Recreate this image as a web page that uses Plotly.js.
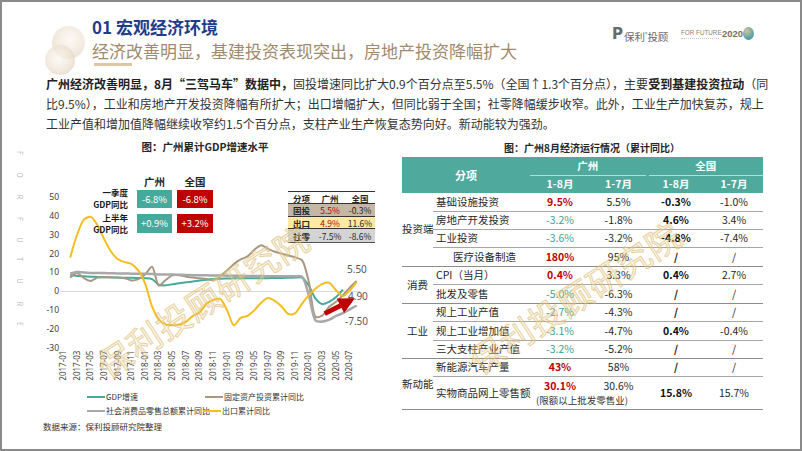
<!DOCTYPE html>
<html><head><meta charset="utf-8">
<script src="https://cdn.plot.ly/plotly-3.0.1.min.js"></script>
<style>
body{margin:0;width:802px;height:451px;overflow:hidden;background:#fff;font-family:"Noto Sans CJK SC","Noto Sans",sans-serif;color:#262626;position:relative;}
.abs{position:absolute;white-space:nowrap;}
#frame{position:absolute;left:0;top:0;width:798px;height:447px;border:2px solid #8a8a8a;z-index:50;pointer-events:none;}
#plot{position:absolute;left:0;top:0;width:802px;height:451px;}
.para{position:absolute;left:46px;width:706px;font-size:12px;line-height:20px;text-align:justify;text-align-last:justify;white-space:nowrap;color:#333;}
.para b{font-weight:700;color:#222;}
.gbox{position:absolute;color:#fff;font-size:9.5px;text-align:center;line-height:18px;height:18px;}
.glab{position:absolute;font-size:8.5px;font-weight:700;text-align:right;width:60px;line-height:12px;height:12px;color:#1a1a1a;}
table{border-collapse:collapse;table-layout:fixed;}
#bigt td{font-size:10.5px;text-align:center;padding:0;white-space:nowrap;line-height:12px;}
#bigt .hd td{background:#4faa9d;color:#fff;font-weight:700;}
#bigt td.it{text-align:left;padding-left:3px;}
#bigt tr.g td{border-top:1.5px solid #8c8c8c;}
#bigt tr.in td{border-top:1px solid #a6a6a6;}
.red{color:#c00000;font-weight:700;}
.tea{color:#3aa292;}
.bk{font-weight:700;color:#111;}
#smt td{font-size:8.5px;text-align:center;padding:0;line-height:10px;white-space:nowrap;}
.wm{position:absolute;font-size:34px;color:rgba(245,224,165,0.35);-webkit-text-stroke:1px rgba(212,176,100,0.55);transform:rotate(-33deg);transform-origin:center;white-space:nowrap;z-index:40;pointer-events:none;letter-spacing:1px;}
.leg{position:absolute;font-size:8px;line-height:10px;display:flex;align-items:center;white-space:nowrap;color:#333;}
.leg i{display:inline-block;width:18px;height:2px;margin-right:1px;}
.vl{position:absolute;left:16px;font-size:7px;color:#b5b5b5;transform:rotate(90deg);width:8px;text-align:center;}
</style></head>
<body>
<div id="plot"></div>
<div id="frame"></div>

<!-- decorative circles -->
<div class="abs" style="left:52px;top:26px;width:33px;height:33px;border-radius:50%;background:radial-gradient(circle at 55% 40%,#fbf8f3 0%,#efe5d7 55%,#dccbb2 100%);opacity:0.8"></div>
<div class="abs" style="left:45px;top:45px;width:30px;height:30px;border-radius:50%;background:radial-gradient(circle at 45% 45%,#fbf8f3 0%,#ede2d2 55%,#d6c2a6 100%);opacity:0.75"></div>

<div class="abs" style="left:92px;top:15px;font-size:17px;font-weight:700;color:#1f3c8c;line-height:24px">01 宏观经济环境</div>
<div class="abs" style="left:92px;top:39px;font-size:17px;color:#a08a6e;line-height:24px">经济改善明显，基建投资表现突出，房地产投资降幅扩大</div>
<div class="abs" style="left:94px;top:63px;width:38px;height:3px;background:#dcc8a3"></div>

<!-- logo -->
<div class="abs" style="left:612px;top:25px;font-size:15px;font-weight:900;color:#6a6a6a;line-height:18px;font-family:'DejaVu Sans'">P</div>
<div class="abs" style="left:624px;top:27px;font-size:10.5px;color:#6a6a6a;line-height:14px">保利<sup style="font-size:5px">®</sup>投顾</div>
<div class="abs" style="left:681px;top:28px;font-size:6.3px;color:#8f7f6c;line-height:9px;font-family:'Liberation Sans'">FOR FUTURE</div>
<div class="abs" style="left:681px;top:38px;width:38px;height:1px;border-top:1px dotted #c8c8c8"></div>
<div class="abs" style="left:722px;top:27px;font-size:9.5px;font-weight:700;color:#7d6c5a;line-height:14px;font-family:'Liberation Sans Narrow','Liberation Sans'">2020</div>
<div class="abs" style="left:743px;top:27px;width:11px;height:13px;border-radius:50%;background:radial-gradient(circle at 35% 30%,#d7c097 0%,#5aa7a8 60%,#2f7f90 100%)"></div>

<!-- side vertical text -->
<div id="side"></div>

<div class="para" style="top:74px"><b>广州经济改善明显，8月“三驾马车”数据中，</b>固投增速同比扩大0.9个百分点至5.5%（全国↑1.3个百分点），主要<b>受到基建投资拉动</b>（同</div>
<div class="para" style="top:94px">比9.5%），工业和房地产开发投资降幅有所扩大；出口增幅扩大，但同比弱于全国；社零降幅缓步收窄。此外，工业生产加快复苏，规上</div>
<div class="para" style="top:114px;width:auto;text-align-last:auto">工业产值和增加值降幅继续收窄约1.5个百分点，支柱产业生产恢复态势向好。新动能较为强劲。</div>

<div class="abs" style="left:0;width:410px;top:140px;text-align:center;font-size:10.5px;font-weight:700;line-height:14px">图：广州累计GDP增速水平</div>
<div class="abs" style="left:420px;width:344px;top:141px;text-align:center;font-size:10px;font-weight:700;line-height:14px">图：广州8月经济运行情况（累计同比）</div>

<!-- GDP inset -->
<div class="abs" style="left:137px;width:35px;top:175px;text-align:center;font-size:10.5px;font-weight:700;line-height:14px">广州</div>
<div class="abs" style="left:177px;width:36px;top:175px;text-align:center;font-size:10.5px;font-weight:700;line-height:14px">全国</div>
<div class="glab" style="left:68px;top:186px">一季度</div>
<div class="glab" style="left:68px;top:198px">GDP同比</div>
<div class="glab" style="left:68px;top:211px">上半年</div>
<div class="glab" style="left:68px;top:223px">GDP同比</div>
<div class="gbox" style="left:137px;top:190px;width:35px;background:#46a99b">-6.8%</div>
<div class="gbox" style="left:177px;top:190px;width:36px;background:#c00000">-6.8%</div>
<div class="gbox" style="left:137px;top:214px;width:35px;height:19px;line-height:19px;background:#46a99b">+0.9%</div>
<div class="gbox" style="left:177px;top:214px;width:36px;height:19px;line-height:19px;background:#c00000">+3.2%</div>

<!-- small inset table -->
<div class="abs" style="left:288px;top:191px;z-index:5">
<table id="smt" style="width:87px">
<colgroup><col style="width:27px"><col style="width:30px"><col style="width:30px"></colgroup>
<tr style="height:12px;background:#fff;border-top:1.5px solid #333;border-bottom:1px solid #333"><td style="font-weight:700">分项</td><td style="font-weight:700">广州</td><td style="font-weight:700">全国</td></tr>
<tr style="height:13px;background:#c6b7a4"><td style="font-weight:700">固投</td><td class="red" style="font-weight:400">5.5%</td><td>-0.3%</td></tr>
<tr style="height:12px;background:#fde8a4;border-top:1px solid #333;border-bottom:1px solid #333"><td style="font-weight:700">出口</td><td class="red" style="font-weight:400">4.9%</td><td>11.6%</td></tr>
<tr style="height:14px;background:#d4d4d4;border-bottom:1.5px solid #555"><td style="font-weight:700">社零</td><td>-7.5%</td><td>-8.6%</td></tr>
</table></div>

<!-- legend -->
<div id="legend"></div>
<div class="abs" style="left:43px;top:420px;font-size:8.5px;line-height:12px;color:#333">数据来源：保利投顾研究院整理</div>

<!-- big table -->
<div class="abs" style="left:402px;top:157px">
<table id="bigt" style="width:361px">
<colgroup><col style="width:31px"><col style="width:97px"><col style="width:60px"><col style="width:57px"><col style="width:58px"><col style="width:58px"></colgroup>
<tr class="hd" style="height:18px"><td colspan="2" rowspan="2" style="font-size:11px">分项</td><td colspan="2" style="border-bottom:1px solid rgba(255,255,255,0.6)">广州</td><td colspan="2" style="border-bottom:1px solid rgba(255,255,255,0.6);border-left:3px solid #4faa9d">全国</td></tr>
<tr class="hd" style="height:18px"><td>1-8月</td><td>1-7月</td><td>1-8月</td><td>1-7月</td></tr>
<tr style="height:18px"><td rowspan="4">投资端</td><td class="it">基础设施投资</td><td class="red">9.5%</td><td>5.5%</td><td class="bk">-0.3%</td><td>-1.0%</td></tr>
<tr class="in" style="height:18px"><td class="it">房地产开发投资</td><td class="tea">-3.2%</td><td>-1.8%</td><td class="bk">4.6%</td><td>3.4%</td></tr>
<tr class="in" style="height:18px"><td class="it">工业投资</td><td class="tea">-3.6%</td><td>-3.2%</td><td class="bk">-4.8%</td><td>-7.4%</td></tr>
<tr class="in" style="height:19px"><td class="it" style="padding-left:20px">医疗设备制造</td><td class="red">180%</td><td>95%</td><td class="bk">/</td><td>/</td></tr>
<tr class="g" style="height:18px"><td rowspan="2">消费</td><td class="it">CPI（当月）</td><td class="red">0.4%</td><td>3.3%</td><td class="bk">0.4%</td><td>2.7%</td></tr>
<tr class="in" style="height:19px"><td class="it">批发及零售</td><td class="tea">-5.0%</td><td>-6.3%</td><td class="bk">/</td><td>/</td></tr>
<tr class="g" style="height:18px"><td rowspan="3">工业</td><td class="it">规上工业产值</td><td class="tea">-2.7%</td><td>-4.3%</td><td class="bk">/</td><td>/</td></tr>
<tr class="in" style="height:19px"><td class="it">规上工业增加值</td><td class="tea">-3.1%</td><td>-4.7%</td><td class="bk">0.4%</td><td>-0.4%</td></tr>
<tr class="in" style="height:18px"><td class="it">三大支柱产业产值</td><td class="tea">-3.2%</td><td>-5.2%</td><td class="bk">/</td><td>/</td></tr>
<tr class="g" style="height:18px"><td rowspan="3">新动能</td><td class="it">新能源汽车产量</td><td class="red">43%</td><td>58%</td><td class="bk">/</td><td>/</td></tr>
<tr class="in" style="height:16px"><td class="it" rowspan="2">实物商品网上零售额</td><td class="red" style="vertical-align:bottom">30.1%</td><td style="vertical-align:bottom">30.6%</td><td class="bk" rowspan="2">15.8%</td><td rowspan="2">15.7%</td></tr>
<tr style="height:17px;border-bottom:1.5px solid #8c8c8c"><td colspan="2" style="font-size:9.5px;color:#333;text-align:left;padding-left:6px">(限额以上批发零售业)</td></tr>
</table></div>

<div class="wm" style="left:80px;top:276px">保利投顾研究院</div>
<div class="wm" style="left:452px;top:272px">保利投顾研究院</div>

<script>
// ---- data ----
const months = ['2017-01','2017-02','2017-03','2017-04','2017-05','2017-06','2017-07','2017-08','2017-09','2017-10','2017-11','2017-12',
 '2018-01','2018-02','2018-03','2018-04','2018-05','2018-06','2018-07','2018-08','2018-09','2018-10','2018-11','2018-12',
 '2019-01','2019-02','2019-03','2019-04','2019-05','2019-06','2019-07','2019-08','2019-09','2019-10','2019-11','2019-12',
 '2020-01','2020-02','2020-03','2020-04','2020-05','2020-06','2020-07','2020-08'];
const tickLabels = ['2017-01','2017-03','2017-05','2017-07','2017-09','2017-11','2018-01','2018-03','2018-05','2018-07','2018-09','2018-11',
 '2019-01','2019-03','2019-05','2019-07','2019-09','2019-11','2020-01','2020-03','2020-05','2020-07'];
const gdpGrowth = [null,8.5,8.2,8.0,7.8,7.6,7.5,7.4,7.3,7.2,7.2,7.1,7.0,6.5,3.5,3.2,3.8,4.3,4.8,5.2,5.8,6.2,6.5,6.7,6.8,6.9,6.9,7.0,7.0,7.0,7.0,7.1,7.1,7.2,7.3,7.3,3.0,-4.0,-6.8,-5.5,-3.0,0.9,null,null];
const faiGrowth = [null,7.3,9.8,7.0,5.5,7.3,7.5,7.5,7.3,7.0,5.8,6.5,9.0,13.0,3.0,6.0,8.5,8.5,7.8,7.3,7.0,6.5,6.0,8.0,11.0,14.5,17.0,18.5,22.0,24.5,22.5,21.0,20.0,19.0,18.0,16.5,5.0,-13.5,-12.7,-8.0,-5.5,-2.0,2.0,5.5];
const retailGrowth = [null,9.5,10.2,10.0,9.8,9.7,9.7,9.6,9.5,9.5,9.4,9.3,9.3,9.2,9.0,8.9,8.9,8.8,8.7,8.6,8.5,8.5,8.4,8.4,8.3,8.3,8.2,8.2,8.1,8.1,8.0,8.0,8.0,8.0,8.0,7.8,-2.0,-15.5,-16.0,-15.0,-13.0,-11.5,-9.5,-7.5];
const exportGrowth = [null,18,30,38,39.5,35,27.5,21,17,15.5,14.5,11,4,-8,-15,-17.5,-18,-17.5,-16,-13,-11,-6.5,-4.5,-4,-10,-18,-14,-13,-10,-6,-3.5,-5,-8,-12,-11.5,-6.5,-2,1.5,4,4.5,0.5,-2.5,0.5,4.9];
const seriesNames = ['GDP增速','固定资产投资累计同比','社会消费品零售总额累计同比','出口累计同比'];
const seriesColors = ['#45a99b','#a99782','#a8a8a8','#f5bd1f'];
const seriesWidths = [2,2,2.5,2];
const yTicks = [-30,-20,-10,0,10,20,30,40,50];

const allSeries = [gdpGrowth, faiGrowth, retailGrowth, exportGrowth];
const traces = allSeries.map((s,k)=>({
  x: months, y: s, type:'scatter', mode:'lines', name: seriesNames[k],
  line:{color: seriesColors[k], width: seriesWidths[k], shape:'spline', smoothing:0.8},
  connectgaps:false, hoverinfo:'skip'
}));

const last = months.length-1;
const labelFont = {size:10, color:'#595959', family:'Noto Sans, sans-serif'};
const annotations = [
  {x: last, y: faiGrowth[last], xref:'x', yref:'y', text: faiGrowth[last].toFixed(2), showarrow:false, yshift:12, font:labelFont},
  {x: last, y: exportGrowth[last], xref:'x', yref:'y', text: exportGrowth[last].toFixed(2), showarrow:false, yshift:-14, xshift:1, font:labelFont},
  {x: last, y: retailGrowth[last], xref:'x', yref:'y', text: retailGrowth[last].toFixed(2), showarrow:false, yshift:-15, font:labelFont},
  {x: 42.75, y: -3.7, ax: 38.1, ay: -12.2, xref:'x', yref:'y', axref:'x', ayref:'y', text:'', showarrow:true,
   arrowcolor:'#c00000', arrowwidth:5, arrowhead:2, arrowsize:0.65}
];

const layout = {
  width:802, height:451, margin:{l:60, r:442, t:197, b:103},
  paper_bgcolor:'rgba(0,0,0,0)', plot_bgcolor:'rgba(0,0,0,0)',
  showlegend:false,
  font:{family:'Noto Sans, Noto Sans CJK SC, sans-serif', color:'#404040'},
  xaxis:{type:'category', categoryorder:'array', categoryarray: months, range:[-0.5, months.length-0.5],
    tickmode:'array', tickvals: tickLabels, ticktext: tickLabels, tickangle:-90,
    tickfont:{size:8, color:'#404040'}, showgrid:false, zeroline:false, showline:false, ticks:'', automargin:false},
  yaxis:{range:[-30,50], tickmode:'array', tickvals:yTicks, ticktext: yTicks.map(String),
    tickfont:{size:8.5, color:'#404040'}, showgrid:false, zeroline:true, zerolinecolor:'#d9d9d9', zerolinewidth:1,
    showline:false, ticks:'', automargin:false},
  annotations: annotations
};
Plotly.newPlot('plot', traces, layout, {staticPlot:true, displayModeBar:false});

// legend (HTML) built from series names/colors
const legPos = [[87,392],[205,392],[87,406],[203,406]];
const legEl = document.getElementById('legend');
seriesNames.forEach((n,k)=>{
  const d = document.createElement('div');
  d.className='leg';
  d.style.left = legPos[k][0]+'px'; d.style.top = legPos[k][1]+'px';
  d.innerHTML = '<i style="background:'+seriesColors[k]+'"></i>'+n;
  legEl.appendChild(d);
});
// side letters
const sideLetters = ['F','O','R','F','U','T','U','R','E'];
const sideY = [148,170,192,214,235,254,276,299,319];
const side = document.getElementById('side');
sideLetters.forEach((c,i)=>{
  const d=document.createElement('div'); d.className='vl'; d.style.top=sideY[i]+'px'; d.textContent=c; side.appendChild(d);
});
</script>
</body></html>
